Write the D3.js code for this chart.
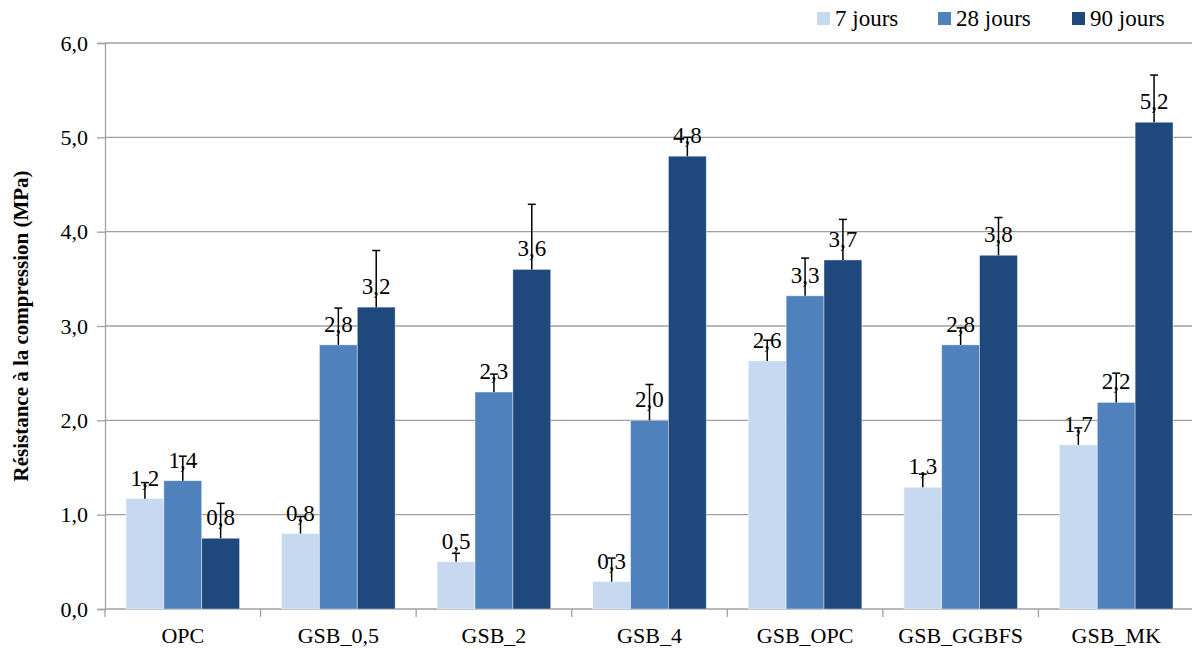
<!DOCTYPE html>
<html>
<head>
<meta charset="utf-8">
<script src="https://cdn.jsdelivr.net/npm/d3@7"></script>
</head>
<body style="margin:0;background:#fff">
<svg id="chart" width="1192" height="649"></svg>
<script>
  'use strict';

  var categories = ['OPC', 'GSB_0,5', 'GSB_2', 'GSB_4', 'GSB_OPC', 'GSB_GGBFS', 'GSB_MK'];
  var seriesNames = ['7 jours', '28 jours', '90 jours'];
  var values7 = [1.17, 0.80, 0.50, 0.29, 2.63, 1.29, 1.74];
  var values28 = [1.36, 2.80, 2.30, 2.00, 3.32, 2.80, 2.19];
  var values90 = [0.75, 3.20, 3.60, 4.80, 3.70, 3.75, 5.16];
  var errors7 = [0.17, 0.18, 0.09, 0.25, 0.22, 0.14, 0.18];
  var errors28 = [0.26, 0.39, 0.19, 0.38, 0.40, 0.18, 0.31];
  var errors90 = [0.37, 0.60, 0.69, 0.20, 0.43, 0.40, 0.50];
  var yTicks = [0, 1, 2, 3, 4, 5, 6];

  var colors = ['#c6d9f1', '#4f81bd', '#1f497d'];
  var FONT = 'Liberation Serif';

  var allValues = [values7, values28, values90],
      allErrors = [errors7, errors28, errors90];

  var margin = {top: 43, right: -2, bottom: 40, left: 105},
      width = 1192 - margin.left - margin.right,
      height = 649 - margin.top - margin.bottom;

  var svg = d3.select('#chart').style('font-family', FONT);
  var g = svg.append('g').attr('transform', 'translate(' + margin.left + ',' + margin.top + ')');

  var x0 = d3.scaleBand().domain(categories).range([0, width]).paddingInner(0.27).paddingOuter(0.135);
  var x1 = d3.scaleBand().domain(seriesNames).range([0, x0.bandwidth()]);
  var y = d3.scaleLinear().domain([0, 6]).range([height, 0]);

  var fmt = function(v) { return d3.format('.1f')(v).replace('.', ','); };

  // gridlines
  g.selectAll('.grid').data(yTicks.slice(1)).enter().append('line')
    .attr('x1', 0).attr('x2', width)
    .attr('y1', function(d) { return y(d); }).attr('y2', function(d) { return y(d); })
    .attr('stroke', '#a0a0a0').attr('stroke-width', 1.3);

  // y axis
  var yAxis = g.append('g').call(d3.axisLeft(y).tickValues(yTicks).tickSize(8).tickPadding(9).tickFormat(fmt));
  yAxis.attr('font-family', FONT).attr('font-size', 22);
  yAxis.select('.domain').attr('stroke', '#a0a0a0').attr('stroke-width', 1.3);
  yAxis.selectAll('.tick line').attr('stroke', '#a0a0a0').attr('stroke-width', 1.3);
  yAxis.selectAll('text').style('font-size', '22px').attr('fill', '#000').style('font-family', FONT);

  // x axis with boundary ticks
  var xAxisG = g.append('g').attr('transform', 'translate(0,' + height + ')');
  xAxisG.append('line').attr('x1', 0).attr('x2', width).attr('stroke', '#a0a0a0').attr('stroke-width', 1.3);
  var step = x0.step();
  xAxisG.selectAll('.xt').data(d3.range(categories.length + 1)).enter().append('line')
    .attr('x1', function(i) { return i * step; }).attr('x2', function(i) { return i * step; })
    .attr('y1', 0).attr('y2', 8)
    .attr('stroke', '#a0a0a0').attr('stroke-width', 1.3);
  xAxisG.selectAll('.xl').data(categories).enter().append('text')
    .attr('x', function(d) { return x0(d) + x0.bandwidth() / 2; })
    .attr('y', 34)
    .attr('text-anchor', 'middle')
    .style('font-family', FONT)
    .style('font-size', '22px')
    .text(function(d) { return d; });

  // bars
  var groups = g.selectAll('.grp').data(categories).enter().append('g')
    .attr('transform', function(d) { return 'translate(' + x0(d) + ',0)'; });

  var cells = groups.selectAll('.cell').data(function(d, i) {
    return seriesNames.map(function(s, k) {
      return {series: s, k: k, value: allValues[k][i], err: allErrors[k][i]};
    });
  }).enter().append('g');

  cells.append('rect')
    .attr('x', function(d) { return x1(d.series); })
    .attr('width', x1.bandwidth())
    .attr('y', function(d) { return y(d.value); })
    .attr('height', function(d) { return height - y(d.value); })
    .attr('fill', function(d) { return colors[d.k]; })
    .attr('stroke', '#ffffff').attr('stroke-opacity', 0.5).attr('stroke-width', 0.8);

  // value labels
  cells.append('text')
    .attr('x', function(d) { return x1(d.series) + x1.bandwidth() / 2; })
    .attr('y', function(d) { return y(d.value) - 13; })
    .attr('text-anchor', 'middle')
    .style('font-family', FONT)
    .style('font-size', '23px')
    .text(function(d) { return fmt(d.value); });

  // error bars (plus only)
  var cx = function(d) { return x1(d.series) + x1.bandwidth() / 2; };
  cells.append('line')
    .attr('x1', cx).attr('x2', cx)
    .attr('y1', function(d) { return y(d.value); })
    .attr('y2', function(d) { return y(d.value + d.err); })
    .attr('stroke', '#000').attr('stroke-width', 1.5);
  cells.append('line')
    .attr('x1', function(d) { return cx(d) - 4; }).attr('x2', function(d) { return cx(d) + 4; })
    .attr('y1', function(d) { return y(d.value + d.err); })
    .attr('y2', function(d) { return y(d.value + d.err); })
    .attr('stroke', '#000').attr('stroke-width', 1.5);

  // y axis title
  svg.append('text')
    .attr('transform', 'translate(28,' + (margin.top + height / 2) + ') rotate(-90)')
    .attr('text-anchor', 'middle')
    .style('font-family', FONT)
    .style('font-size', '21px')
    .style('font-weight', 'bold')
    .text('Résistance à la compression (MPa)');

  // legend
  var legendX = [817, 938, 1072];
  var legend = svg.selectAll('.leg').data(seriesNames).enter().append('g')
    .attr('transform', function(d, i) { return 'translate(' + legendX[i] + ',12)'; });
  legend.append('rect').attr('width', 13).attr('height', 13)
    .attr('fill', function(d, i) { return colors[i]; });
  legend.append('text').attr('x', 18).attr('y', 14)
    .style('font-family', FONT)
    .style('font-size', '23px')
    .text(function(d) { return d; });
</script>
</body>
</html>
